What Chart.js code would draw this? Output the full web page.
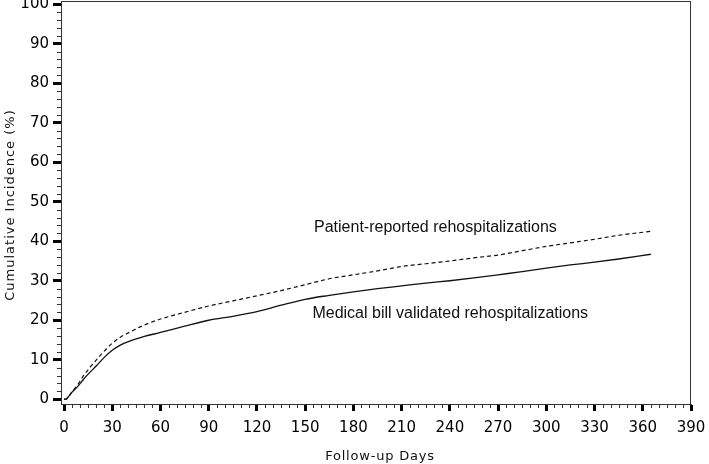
<!DOCTYPE html>
<html><head><meta charset="utf-8">
<script src="https://cdn.jsdelivr.net/npm/chart.js@4/dist/chart.umd.min.js"></script>
<style>html,body{margin:0;padding:0;background:#fff}#wrap{width:709px;height:464px}</style>
</head><body><div id="wrap"><canvas id="c" width="709" height="464"></canvas></div>
<script>
const days = [0, 1, 3, 5, 8, 12, 16, 20, 25, 30, 35, 40, 50, 60, 75, 90, 105, 120, 135, 150, 165, 180, 195, 210, 225, 240, 255, 270, 285, 300, 315, 330, 345, 365];
const medicalBill = [0, 0, 0.8, 1.8, 3.0, 5.0, 6.8, 8.4, 10.6, 12.4, 13.7, 14.6, 15.9, 16.9, 18.5, 20.0, 21.0, 22.2, 23.8, 25.3, 26.3, 27.2, 28.0, 28.7, 29.4, 30.0, 30.7, 31.5, 32.3, 33.2, 34.0, 34.7, 35.5, 36.7];
const patientReported = [0, 0, 0.8, 1.9, 3.4, 5.9, 8.0, 9.9, 12.2, 14.2, 15.7, 16.8, 18.8, 20.3, 22.0, 23.6, 24.9, 26.2, 27.5, 29.0, 30.5, 31.5, 32.5, 33.6, 34.3, 35.0, 35.8, 36.5, 37.6, 38.7, 39.6, 40.5, 41.5, 42.5];
const xTicks = [0,30,60,90,120,150,180,210,240,270,300,330,360,390];
const yTicks = [0,10,20,30,40,50,60,70,80,90,100];
const xTitle = 'Follow-up Days';
const yTitle = 'Cumulative Incidence (%)';
const labels = [
  {text: 'Patient-reported rehospitalizations', x: 155.5, y: 43.4},
  {text: 'Medical bill validated rehospitalizations', x: 154.5, y: 21.8}
];

const toPts = arr => days.map((d,i)=>({x:d,y:arr[i]}));
const tickFont = '"DejaVu Sans", Verdana, sans-serif';

const extras = {
  id: 'extras',
  afterDraw(chart){
    const ctx = chart.ctx, a = chart.chartArea, xs = chart.scales.x, ys = chart.scales.y;
    ctx.save();
    ctx.strokeStyle = '#333'; ctx.lineWidth = 1;
    ctx.strokeRect(a.left+0.5, a.top+0.5, a.right-a.left-1, a.bottom-a.top);
    ctx.beginPath();
    for(let v=0; v<=390; v+=5){ if(v%30===0) continue; const px=Math.round(xs.getPixelForValue(v))+0.5; ctx.moveTo(px,a.bottom); ctx.lineTo(px,a.bottom+4);}
    for(let v=0; v<=100; v+=2){ if(v%10===0) continue; const py=Math.round(ys.getPixelForValue(v))+0.5; ctx.moveTo(a.left,py); ctx.lineTo(a.left-4,py);}
    ctx.stroke();
    ctx.fillStyle = '#111';
    ctx.font = '16px "Liberation Sans", Arial, sans-serif';
    ctx.textBaseline = 'middle'; ctx.textAlign = 'left';
    labels.forEach(l=>ctx.fillText(l.text, xs.getPixelForValue(l.x), ys.getPixelForValue(l.y)));
    ctx.font = '13px ' + tickFont;
    ctx.textAlign = 'center';
    ctx.letterSpacing = '0.8px';
    ctx.fillText(xTitle, 380, 457);
    ctx.letterSpacing = '1px';
    ctx.translate(11, 205); ctx.rotate(-Math.PI/2);
    ctx.fillText(yTitle, 0, 0);
    ctx.restore();
  }
};

new Chart(document.getElementById('c'), {
  type: 'line',
  data: { datasets: [
    {label:'Patient-reported rehospitalizations', data: toPts(patientReported), borderColor:'#111', borderWidth:1.2, borderDash:[4,3], pointRadius:0, cubicInterpolationMode:'monotone', fill:false},
    {label:'Medical bill validated rehospitalizations', data: toPts(medicalBill), borderColor:'#111', borderWidth:1.3, pointRadius:0, cubicInterpolationMode:'monotone', fill:false}
  ]},
  options: {
    responsive:false, animation:false,
    layout:{padding:{top:1,right:18,left:0,bottom:0}},
    plugins:{legend:{display:false}, tooltip:{enabled:false}},
    scales:{
      x:{type:'linear', min:-1.9, max:390,
        afterBuildTicks: s => { s.ticks = xTicks.map(v=>({value:v})); },
        afterFit: s => { s.height = 60; s.paddingLeft = 0; s.paddingRight = 0; },
        grid:{drawOnChartArea:false, drawTicks:true, tickLength:7, tickWidth:3, tickColor:'#000'},
        border:{display:true, color:'#333', width:1},
        ticks:{font:{family:tickFont, size:15}, color:'#000', padding:8, maxRotation:0},
        title:{display:false}
      },
      y:{type:'linear', min:-1.2, max:100.8,
        afterBuildTicks: s => { s.ticks = yTicks.map(v=>({value:v})); },
        afterFit: s => { s.width = 61; s.paddingTop = 0; s.paddingBottom = 0; },
        grid:{drawOnChartArea:false, drawTicks:true, tickLength:8, tickWidth:3, tickColor:'#000'},
        border:{display:true, color:'#333', width:1},
        ticks:{font:{family:tickFont, size:15}, color:'#000', padding:4},
        title:{display:false}
      }
    }
  },
  plugins:[extras]
});
</script></body></html>
